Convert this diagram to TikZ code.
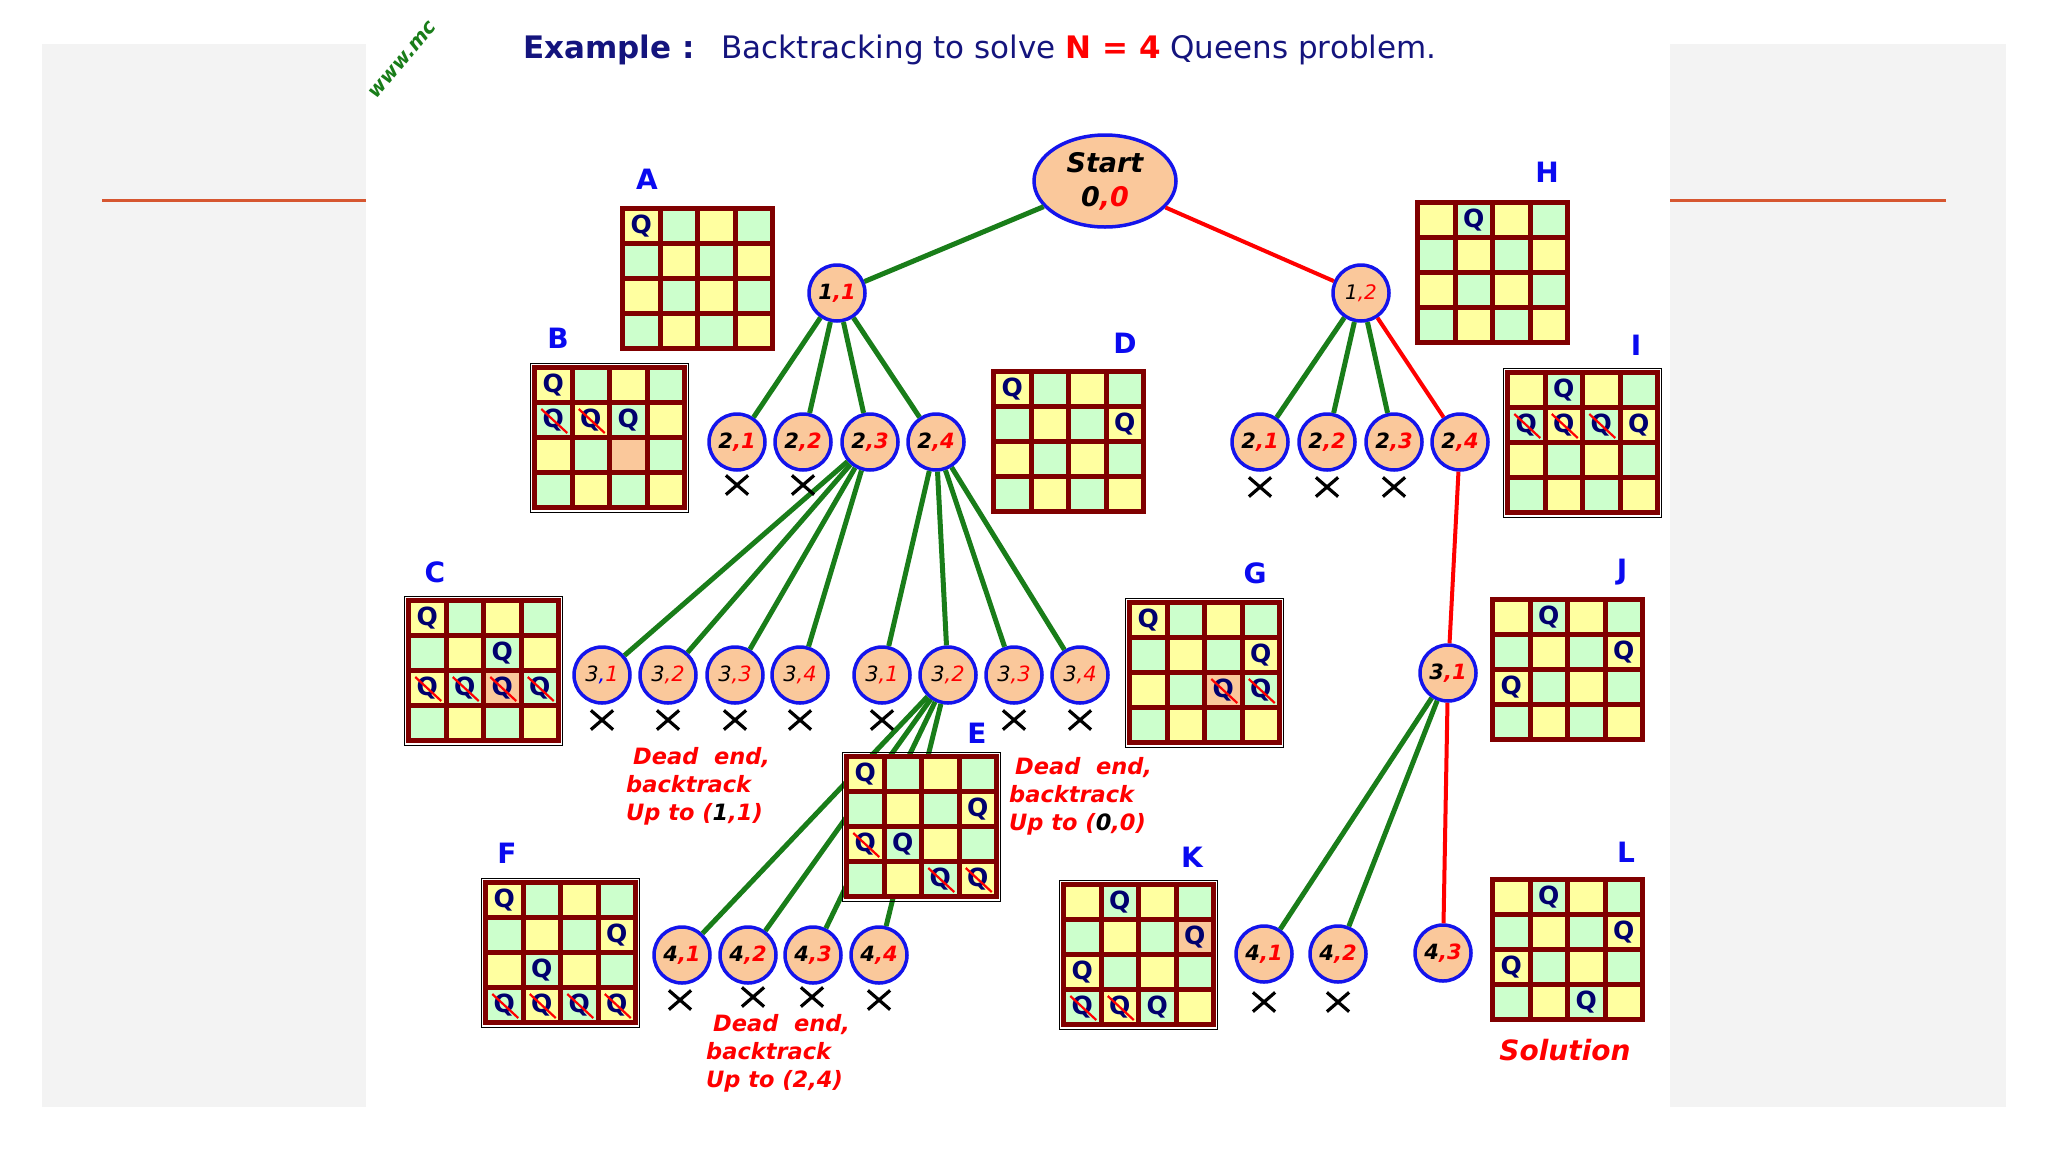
\documentclass[tikz,border=0pt]{standalone}
\usepackage{fontspec}
\setmainfont{DejaVu Sans}
\usetikzlibrary{shapes.geometric,shapes.misc}

\definecolor{gridred}{RGB}{128,0,0}
\definecolor{cellyellow}{RGB}{255,255,160}
\definecolor{cellgreen}{RGB}{204,255,204}
\definecolor{cellpeach}{RGB}{250,200,155}
\definecolor{nodepeach}{RGB}{250,200,155}
\definecolor{nodeblue}{RGB}{20,20,235}
\definecolor{labelblue}{RGB}{10,10,240}
\definecolor{queenblue}{RGB}{0,0,110}
\definecolor{treegreen}{RGB}{25,125,25}
\definecolor{titleblue}{RGB}{20,20,125}
\definecolor{panelgray}{RGB}{243,243,243}
\definecolor{orangeline}{RGB}{214,86,48}

\tikzset{
  qnode/.style={circle, draw=nodeblue, fill=nodepeach, line width=3.5pt, minimum size=56pt, inner sep=0pt, font=\fontsize{21}{23}\selectfont\bfseries\itshape},
  qnodelight/.style={qnode, font=\fontsize{21}{23}\selectfont\itshape},
  startnode/.style={ellipse, draw=nodeblue, fill=nodepeach, line width=3.5pt, minimum width=142pt, minimum height=92pt, inner sep=0pt, align=center, font=\fontsize{27}{34}\selectfont\bfseries\itshape},
  greenedge/.style={draw=treegreen, line width=5pt},
  rededge/.style={draw=red, line width=4pt},
  deadx/.style={cross out, draw=black, line width=3.2pt, minimum width=19pt, minimum height=16pt, inner sep=0pt},
  queen/.style={text=queenblue, font=\fontsize{25}{25}\selectfont\bfseries, inner sep=0pt},
  qcross/.style={draw=red, line width=2.2pt},
  boardlabel/.style={text=labelblue, font=\fontsize{28}{28}\selectfont\bfseries, inner sep=0pt},
  deadnote/.style={text=red, align=left, anchor=west, inner sep=0pt, font=\fontsize{22.5}{28}\selectfont\bfseries\itshape}
}

% 4x4 board, top left corner at the origin of the current scope
\newcommand{\qboard}[1]{
  \fill [gridred] (0,0) rectangle (155,145);
  \foreach \r in {1,...,4}
    \foreach \c in {1,...,4} {
      \pgfmathtruncatemacro\cellpar{mod(\r+\c,2)}
      \coordinate (#1\r\c) at ({21.25+(\c-1)*37.5},{20+(\r-1)*35});
      \ifnum\cellpar=0
        \fill [cellyellow] ({5+(\c-1)*37.5},{5+(\r-1)*35}) rectangle ++(32.5,30);
      \else
        \fill [cellgreen] ({5+(\c-1)*37.5},{5+(\r-1)*35}) rectangle ++(32.5,30);
      \fi
    }
}
\newcommand{\boardedge}{\draw [black, line width=1.3pt] (-1.5,-1.5) rectangle (156.5,147.5);}
\newcommand{\peachcell}[2]{\foreach \r/\c in {#2} \fill [cellpeach] ([shift={(-16.25,-15)}]#1\r\c) rectangle ++(32.5,30);}
\newcommand{\queens}[2]{\foreach \r/\c in {#2} \node [queen] at (#1\r\c) (#1q\r\c) {Q};}
\newcommand{\xqueens}[2]{\foreach \r/\c in {#2} {
    \node [queen] at (#1\r\c) (#1q\r\c) {Q};
    \draw [qcross] ([shift={(-12,-11)}]#1\r\c) -- ([shift={(14,13)}]#1\r\c);
  }}
\newcommand{\nlab}[2]{#1\textcolor{red}{,#2}}

\begin{document}
\begin{tikzpicture}[x=1pt, y=-1pt]
\useasboundingbox (0,0) rectangle (2048,1152);

% side panels
\fill [panelgray] (42,44) rectangle (366,1107);
\fill [panelgray] (1670,44) rectangle (2006,1107);
\draw [orangeline, line width=3pt] (102,200) -- (366,200);
\draw [orangeline, line width=3pt] (1670,200) -- (1946,200);

\node [rotate=50, text=treegreen, font=\fontsize{20}{20}\selectfont\bfseries\itshape] at (403,60) (wmark) {www.mc};

\node [anchor=west, inner sep=0pt, text=titleblue, font=\fontsize{31}{31}\selectfont] at (523,50) (title)
  {{\bfseries Example :}\hspace{27pt}Backtracking to solve {\bfseries\color{red}N = 4} Queens problem.};

% tree nodes
\node [startnode] at (1105,181) (start) {Start\\0\textcolor{red}{,0}};
\node [qnode] at (837,293) (n11) {\nlab{1}{1}};
\node [qnodelight, font=\fontsize{20}{22}\selectfont\itshape] at (1361,293) (n12) {\nlab{1}{2}};

\foreach \x/\name/\a/\b in {737/a21/2/1, 803/a22/2/2, 870/a23/2/3, 936/a24/2/4,
    1260/b21/2/1, 1327/b22/2/2, 1394/b23/2/3, 1460/b24/2/4}
  \node [qnode] at (\x,442) (\name) {\nlab{\a}{\b}};

\node [qnodelight] at (602,675) (c31) {3\textcolor{blue}{,}\textcolor{red}{1}};
\foreach \x/\name/\a/\b in {668/c32/3/2, 735/c33/3/3, 800/c34/3/4,
    882/d31/3/1, 948/d32/3/2, 1014/d33/3/3, 1080/d34/3/4}
  \node [qnodelight] at (\x,675) (\name) {\nlab{\a}{\b}};

\node [qnode] at (1448,673) (e31) {\nlab{3}{1}};

\foreach \x/\y/\name/\a/\b in {682/955/f41/4/1, 748/955/f42/4/2, 813/955/f43/4/3, 879/955/f44/4/4,
    1264/954/g41/4/1, 1338/954/g42/4/2, 1443/953/g43/4/3}
  \node [qnode] at (\x,\y) (\name) {\nlab{\a}{\b}};

% connectors
\foreach \from/\to in {start/n11, n11/a21, n11/a22, n11/a23, n11/a24,
    n12/b21, n12/b22, n12/b23,
    a23/c31, a23/c32, a23/c33, a23/c34,
    a24/d31, a24/d32, a24/d33, a24/d34,
    d32/f41, d32/f42, d32/f43, d32/f44,
    e31/g41, e31/g42}
  \draw [greenedge] (\from) -- (\to);
\foreach \from/\to in {start/n12, n12/b24, b24/e31, e31/g43}
  \draw [rededge] (\from) -- (\to);

% dead ends
\foreach \x/\y/\name in {737/485/xa21, 803/485/xa22,
    1260/487/xb21, 1327/487/xb22, 1394/487/xb23,
    602/720/xc31, 668/720/xc32, 735/720/xc33, 800/720/xc34,
    882/720/xd31, 1014/720/xd33, 1080/720/xd34,
    680/1000/xf41, 753/997/xf42, 812/997/xf43, 879/1000/xf44,
    1264/1002/xg41, 1338/1002/xg42}
  \node [deadx] at (\x,\y) (\name) {};

% boards
\begin{scope}[shift={(620,206)}]
  \qboard{A}
  \queens{A}{1/1}
\end{scope}
\begin{scope}[shift={(532,365)}]
  \boardedge
  \qboard{B}
  \peachcell{B}{3/3}
  \queens{B}{1/1, 2/3}
  \xqueens{B}{2/1, 2/2}
\end{scope}
\begin{scope}[shift={(406,598)}]
  \boardedge
  \qboard{C}
  \peachcell{C}{3/3}
  \queens{C}{1/1, 2/3}
  \xqueens{C}{3/1, 3/2, 3/3, 3/4}
\end{scope}
\begin{scope}[shift={(991,369)}]
  \qboard{D}
  \queens{D}{1/1, 2/4}
\end{scope}
\begin{scope}[shift={(844,754)}]
  \boardedge
  \qboard{E}
  \queens{E}{1/1, 2/4, 3/2}
  \xqueens{E}{3/1, 4/3, 4/4}
\end{scope}
\begin{scope}[shift={(483,880)}]
  \boardedge
  \qboard{F}
  \queens{F}{1/1, 2/4, 3/2}
  \xqueens{F}{4/1, 4/2, 4/3, 4/4}
\end{scope}
\begin{scope}[shift={(1127,600)}]
  \boardedge
  \qboard{G}
  \peachcell{G}{3/3}
  \queens{G}{1/1, 2/4}
  \xqueens{G}{3/3, 3/4}
\end{scope}
\begin{scope}[shift={(1415,200)}]
  \qboard{H}
  \queens{H}{1/2}
\end{scope}
\begin{scope}[shift={(1505,370)}]
  \boardedge
  \qboard{I}
  \queens{I}{1/2, 2/4}
  \xqueens{I}{2/1, 2/2, 2/3}
\end{scope}
\begin{scope}[shift={(1490,597)}]
  \qboard{J}
  \queens{J}{1/2, 2/4, 3/1}
\end{scope}
\begin{scope}[shift={(1061,882)}]
  \boardedge
  \qboard{K}
  \peachcell{K}{2/4}
  \queens{K}{1/2, 2/4, 3/1, 4/3}
  \xqueens{K}{4/1, 4/2}
\end{scope}
\begin{scope}[shift={(1490,877)}]
  \qboard{L}
  \queens{L}{1/2, 2/4, 3/1, 4/3}
\end{scope}

\foreach \x/\y/\name in {647/179/A, 558/338/B, 435/572/C, 1125/343/D, 977/733/E, 507/853/F,
    1255/573/G, 1547/172/H, 1636/345/I, 1622/572/J, 1192/857/K, 1626/852/L}
  \node [boardlabel] at (\x,\y) (lab\name) {\name};

\node [deadnote] at (626,786) (note11) {\hspace*{7pt}Dead\ \ end,\\backtrack\\Up to (\textcolor{black}{1},1)};
\node [deadnote] at (1009,796) (note00) {\hspace*{6pt}Dead\ \ end,\\backtrack\\Up to (\textcolor{black}{0},0)};
\node [deadnote] at (706,1053) (note24) {\hspace*{7pt}Dead\ \ end,\\backtrack\\Up to (2,4)};

\node [text=red, font=\fontsize{28}{28}\selectfont\bfseries\itshape] at (1565,1050) (solution) {Solution};

\end{tikzpicture}
\end{document}
